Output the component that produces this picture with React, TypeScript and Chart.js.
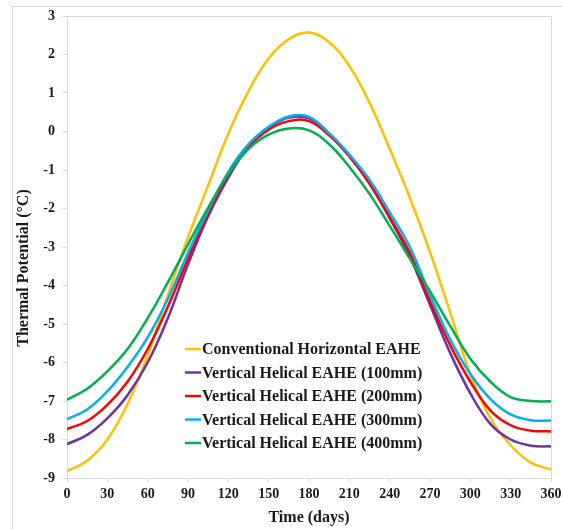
import React, { useEffect, useRef } from "react";
import { Chart, registerables } from "chart.js";

Chart.register(...registerables);

// ---- data ----
const days = [0, 15, 30, 45, 60, 75, 90, 105, 120, 135, 150, 165, 180, 195, 210, 225, 240, 255, 270, 285, 300, 315, 330, 345, 360];

const conventional = [-8.82, -8.55, -8.0, -7.08, -5.82, -4.25, -2.75, -1.4, -0.05, 1.05, 1.9, 2.4, 2.57, 2.32, 1.7, 0.75, -0.45, -1.72, -3.13, -4.7, -6.3, -7.45, -8.15, -8.6, -8.78];
const helical100 = [-8.12, -7.88, -7.45, -6.85, -6.0, -4.85, -3.45, -2.2, -1.2, -0.38, 0.1, 0.36, 0.34, -0.05, -0.62, -1.35, -2.25, -3.25, -4.5, -5.75, -6.8, -7.6, -8.0, -8.16, -8.18];
const helical200 = [-7.73, -7.52, -7.1, -6.5, -5.65, -4.55, -3.3, -2.12, -1.12, -0.4, 0.05, 0.27, 0.27, -0.1, -0.65, -1.35, -2.22, -3.15, -4.4, -5.55, -6.5, -7.25, -7.63, -7.77, -7.79];
const helical300 = [-7.47, -7.22, -6.75, -6.12, -5.35, -4.35, -3.15, -2.05, -1.05, -0.33, 0.12, 0.39, 0.38, -0.05, -0.6, -1.25, -2.1, -3.0, -4.25, -5.4, -6.3, -6.95, -7.35, -7.5, -7.51];
const helical400 = [-6.97, -6.68, -6.23, -5.65, -4.85, -3.92, -2.93, -1.98, -1.1, -0.45, -0.08, 0.08, 0.03, -0.33, -0.92, -1.62, -2.45, -3.3, -4.15, -5.05, -5.9, -6.5, -6.9, -7.0, -7.01];

const seriesLabels = [
  "Conventional Horizontal EAHE",
  "Vertical Helical EAHE (100mm)",
  "Vertical Helical EAHE (200mm)",
  "Vertical Helical EAHE (300mm)",
  "Vertical Helical EAHE (400mm)",
];
const seriesValues = [conventional, helical100, helical200, helical300, helical400];
const seriesColors = ["#FFC000", "#7030A0", "#FF0000", "#00B0F0", "#00B050"];

const xTicks = [0, 30, 60, 90, 120, 150, 180, 210, 240, 270, 300, 330, 360];
const yTicks = [-9, -8, -7, -6, -5, -4, -3, -2, -1, 0, 1, 2, 3];

const xTitle = "Time (days)";
const yTitle = "Thermal Potential (°C)";

const FONT = '"Liberation Serif", "Times New Roman", serif';
const TEXT = "#1a1a1a";
const FRAME = "#d9d9d9";

export default function App() {
  const ref = useRef<HTMLCanvasElement>(null);

  useEffect(() => {
    const canvas = ref.current;
    if (!canvas) return;

    const framePlugin = {
      id: "framePlugin",
      beforeDraw(chart: any) {
        const { ctx, chartArea: a } = chart;
        ctx.save();
        ctx.fillStyle = "#ffffff";
        ctx.fillRect(0, 0, chart.width, chart.height);
        ctx.strokeStyle = FRAME;
        ctx.lineWidth = 1;
        ctx.strokeRect(12.5, 6.5, chart.width + 10, chart.height + 10);
        ctx.strokeRect(Math.round(a.left) + 0.5, Math.round(a.top) + 0.5, Math.round(a.right - a.left), Math.round(a.bottom - a.top));
        ctx.restore();
      },
    };

    const textPlugin = {
      id: "textPlugin",
      afterDraw(chart: any) {
        const { ctx, chartArea: a } = chart;
        ctx.save();
        // y-axis title
        ctx.fillStyle = TEXT;
        ctx.font = `bold 16px ${FONT}`;
        ctx.textAlign = "center";
        ctx.textBaseline = "middle";
        ctx.translate(24, a.top + 252);
        ctx.rotate(-Math.PI / 2);
        ctx.fillText(yTitle, 0, 0);
        ctx.restore();

        // legend inside plot
        ctx.save();
        ctx.font = `bold 16px ${FONT}`;
        ctx.textAlign = "left";
        ctx.textBaseline = "middle";
        const lx = a.left + 118;
        const ly = a.top + 333;
        chart.data.datasets.forEach((ds: any, i: number) => {
          const y = ly + i * 23.5;
          ctx.strokeStyle = ds.borderColor;
          ctx.lineWidth = 2.5;
          ctx.beginPath();
          ctx.moveTo(lx, y);
          ctx.lineTo(lx + 16, y);
          ctx.stroke();
          ctx.fillStyle = TEXT;
          ctx.fillText(ds.label, lx + 17, y + 1);
        });
        ctx.restore();
      },
    };

    const chart = new Chart(canvas, {
      type: "line",
      data: {
        labels: days,
        datasets: seriesValues.map((vals, i) => ({
          label: seriesLabels[i],
          data: vals.map((v, j) => ({ x: days[j], y: v })),
          borderColor: seriesColors[i],
          backgroundColor: seriesColors[i],
          borderWidth: 2.5,
          pointRadius: 0,
          tension: 0.4,
          fill: false,
          order: 5 - i,
        })),
      },
      options: {
        responsive: false,
        animation: false,
        devicePixelRatio: 1,
        layout: { padding: { left: 12, top: 16, right: 11, bottom: 1 } },
        plugins: {
          legend: { display: false },
          tooltip: { enabled: false },
        },
        scales: {
          x: {
            type: "linear",
            min: 0,
            max: 360,
            afterFit: (s: any) => {
              s.height = 50;
              s.paddingLeft = 0;
              s.paddingRight = 0;
            },
            afterBuildTicks: (s: any) => {
              s.ticks = xTicks.map((v) => ({ value: v }));
            },
            ticks: {
              font: { family: FONT, size: 14, weight: "bold" },
              color: TEXT,
              padding: 4,
              maxRotation: 0,
            },
            grid: { display: true, drawOnChartArea: false, color: FRAME, tickLength: 4 },
            border: { display: true, color: FRAME },
            title: {
              display: true,
              text: xTitle,
              font: { family: FONT, size: 16, weight: "bold" },
              color: TEXT,
              padding: { top: 0, bottom: 1 },
            },
          },
          y: {
            type: "linear",
            min: -9,
            max: 3,
            afterFit: (s: any) => {
              s.width = 55;
              s.paddingTop = 0;
              s.paddingBottom = 0;
            },
            afterBuildTicks: (s: any) => {
              s.ticks = yTicks.map((v) => ({ value: v }));
            },
            ticks: {
              font: { family: FONT, size: 14, weight: "bold" },
              color: TEXT,
              padding: 8,
            },
            grid: { display: true, drawOnChartArea: false, color: FRAME, tickLength: 4 },
            border: { display: true, color: FRAME },
            title: { display: false },
          },
        },
      },
      plugins: [framePlugin, textPlugin],
    });

    return () => chart.destroy();
  }, []);

  return (
    <div style={{ position: "fixed", left: 0, top: 0, width: 562, height: 529, background: "#fff" }}>
      <canvas ref={ref} width={562} height={529} style={{ display: "block", width: 562, height: 529 }} />
    </div>
  );
}
